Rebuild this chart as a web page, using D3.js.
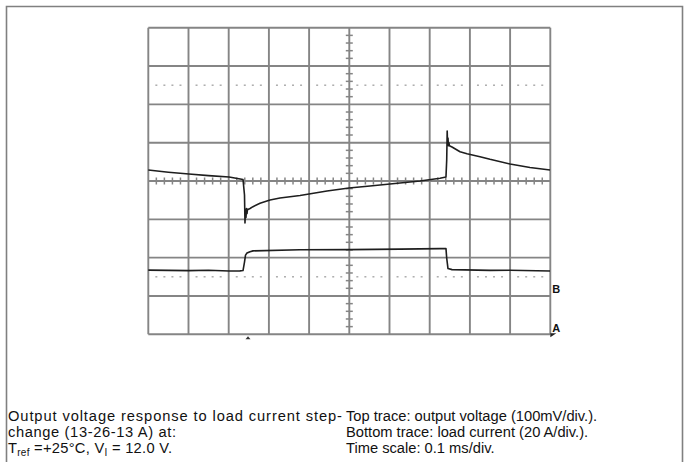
<!DOCTYPE html>
<html><head><meta charset="utf-8">
<script src="https://cdn.jsdelivr.net/npm/d3@7"></script>
<style>html,body{margin:0;padding:0;background:#fff;}svg{display:block;}</style>
</head><body>
<script>
// ---- data ----
const timeDivs = d3.range(0, 11);          // 10 divisions x 0.1 ms
const voltDivs = d3.range(-4, 5);          // 8 divisions
// top trace: output voltage deviation (mV) vs time (ms)
const vTime = [0, 0.05, 0.101, 0.15, 0.201, 0.2356, 0.2393, 0.2405, 0.2418, 0.2430, 0.2442, 0.2455, 0.2467, 0.248, 0.253, 0.2604, 0.2779, 0.3028, 0.3276, 0.3774, 0.4445, 0.4993, 0.5515, 0.6261, 0.6759, 0.7256, 0.7405, 0.7423, 0.7435, 0.7445, 0.7455, 0.7465, 0.7478, 0.749, 0.7555, 0.7754, 0.7928, 0.8251, 0.85, 0.8998, 0.9495, 0.9993];
const vOut  = [28.7, 23, 18.3, 14, 10.4, 3.9, -36.5, -109.6, -75, -95, -72, -85, -74, -74.4, -71.7, -67, -58.2, -49.6, -44.4, -37.8, -26.1, -18.3, -13, -5.2, 0, 7, 10.4, 54.8, 130.4, 95, 112, 92, 100, 92, 88.7, 76.4, 71, 63.4, 56.6, 44.4, 35.2, 28.7];
// bottom trace: load current (A) vs time (ms)
const iTime = [0, 0.101, 0.15, 0.201, 0.228, 0.2356, 0.2393, 0.2418, 0.2455, 0.253, 0.2604, 0.3774, 0.4993, 0.6261, 0.7256, 0.7405, 0.7423, 0.7455, 0.7555, 0.85, 0.9, 0.9993];
const iLoad = [13.0, 12.7, 12.9, 12.4, 12.5, 12.7, 18.1, 22.5, 23.8, 24.7, 25.2, 25.9, 26.0, 26.3, 26.6, 26.6, 20.6, 14.0, 13.3, 12.8, 12.9, 12.4];
const refMarkers = ["B", "A"];
const captionLeft = ["Output voltage response to load current step-", "change (13-26-13 A) at:"];
const captionRight = ["Top trace: output voltage (100mV/div.).", "Bottom trace: load current (20 A/div.).", "Time scale: 0.1 ms/div."];

// ---- layout ----
const W = 690, H = 462;
const svg = d3.select("body").append("svg").attr("width", W).attr("height", H);

// outer frame
svg.append("path").attr("d", `M6.5,${H+2}V6.5H682.5V${H+2}`)
  .attr("fill", "none").attr("stroke", "#808080").attr("stroke-width", 1.6);

const x = d3.scaleLinear().domain([0, 1.0]).range([148.3, 550.3]);
const yDiv = d3.scaleLinear().domain([-4, 4]).range([334.3, 27.7]);
const yV = d3.scaleLinear().domain([-400, 400]).range([334.3, 27.7]);   // 100 mV/div
const yI = d3.scaleLinear().domain([0, 26]).range([yDiv(-2.86), yDiv(-1.79)]);

const g = svg.append("g");
const gridCol = "#858585";
// vertical grid
g.selectAll(".vg").data(timeDivs).join("line")
  .attr("x1", d => x(d/10)).attr("x2", d => x(d/10))
  .attr("y1", yDiv(4)).attr("y2", yDiv(-4))
  .attr("stroke", gridCol).attr("stroke-width", 1.9);
// horizontal grid
g.selectAll(".hg").data(voltDivs).join("line")
  .attr("x1", x(0)).attr("x2", x(1))
  .attr("y1", d => yDiv(d)).attr("y2", d => yDiv(d))
  .attr("stroke", gridCol).attr("stroke-width", 1.9);

// minor ticks on centre axes
const minorX = d3.range(0, 51).filter(k => k % 5 !== 0).map(k => k/50);
const minorY = d3.range(-20, 21).filter(k => k % 5 !== 0).map(k => k/5);
g.selectAll(".tx").data(minorX).join("line")
  .attr("x1", d => x(d)).attr("x2", d => x(d))
  .attr("y1", yDiv(0) - 3.5).attr("y2", yDiv(0) + 3.5)
  .attr("stroke", gridCol).attr("stroke-width", 1.5);
g.selectAll(".ty").data(minorY).join("line")
  .attr("x1", x(0.5) - 3.5).attr("x2", x(0.5) + 3.5)
  .attr("y1", d => yDiv(d)).attr("y2", d => yDiv(d))
  .attr("stroke", gridCol).attr("stroke-width", 1.5);

// dotted reference lines
[2.5, -2.5].forEach(lv => {
  g.selectAll(null).data(minorX).join("line")
    .attr("x1", d => x(d) - 1).attr("x2", d => x(d) + 1)
    .attr("y1", yDiv(lv)).attr("y2", yDiv(lv))
    .attr("stroke", "#a0a0a0").attr("stroke-width", 1.3);
});

// traces
const traceCol = "#1e1e1e";
const vLine = d3.line().x(d => x(d[0])).y(d => yV(d[1]));
const iLine = d3.line().x(d => x(d[0])).y(d => yI(d[1]));
g.append("path").datum(d3.zip(vTime, vOut)).attr("d", vLine)
  .attr("fill", "none").attr("stroke", traceCol).attr("stroke-width", 1.6).attr("stroke-linejoin", "round");
g.append("path").datum(d3.zip(iTime, iLoad)).attr("d", iLine)
  .attr("fill", "none").attr("stroke", traceCol).attr("stroke-width", 1.6).attr("stroke-linejoin", "round");

// trigger marker
const tx = x(0.248), ty = yDiv(-4) + 2;
g.append("path").attr("d", `M${tx-2.5},${ty+3}L${tx},${ty}L${tx+2.5},${ty+3}Z`).attr("fill", "#333");

// channel reference markers
const markerDiv = [-2.8, -3.8];
g.selectAll(".mk").data(refMarkers).join("text")
  .attr("x", x(1) + 2).attr("y", (d, i) => yDiv(markerDiv[i]) + 5)
  .attr("font-family", "Liberation Sans, Arial, sans-serif").attr("font-weight", "bold")
  .attr("font-size", 11).attr("fill", "#111").text(d => d);
g.append("path").attr("d", `M${x(1)},${yDiv(-4)-1}L${x(1)+6},${yDiv(-4)-1}L${x(1)},${yDiv(-4)+3}Z`).attr("fill", "#222");

// captions
const font = "Liberation Sans, Arial, Helvetica, sans-serif";
const tg = svg.append("g").attr("font-family", font).attr("font-size", 14.7).attr("fill", "#111");
const leftWidths = [334, 168, 164];
captionLeft.forEach((t, i) => {
  tg.append("text").attr("x", 8).attr("y", 421 + 16*i)
    .attr("textLength", leftWidths[i]).attr("lengthAdjust", "spacing").text(t);
});
const t3 = tg.append("text").attr("x", 8).attr("y", 453)
  .attr("textLength", leftWidths[2]).attr("lengthAdjust", "spacing");
t3.append("tspan").text("T");
t3.append("tspan").attr("font-size", 10).attr("dy", 3).text("ref");
t3.append("tspan").attr("dy", -3).text(" =+25°C, V");
t3.append("tspan").attr("font-size", 10).attr("dy", 3).text("I");
t3.append("tspan").attr("dy", -3).text(" = 12.0 V.");
captionRight.forEach((t, i) => tg.append("text").attr("x", 346).attr("y", 421 + 16*i).text(t));
</script>
</body></html>
